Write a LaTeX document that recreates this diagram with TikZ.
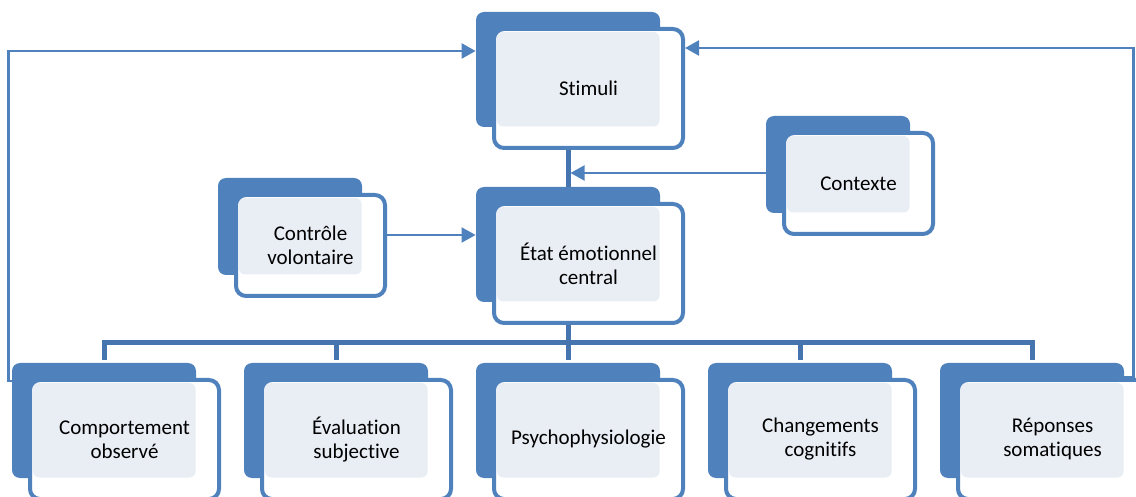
\documentclass[tikz,border=0pt]{standalone}
\usepackage{fontspec}
\setmainfont{Carlito}[RawFeature={-liga}]
\usepackage{tikz}
\usetikzlibrary{positioning, calc, arrows.meta, backgrounds}
\definecolor{boxblue}{RGB}{79,129,189}
\definecolor{linkblue}{RGB}{70,116,174}
\definecolor{paneblue}{RGB}{233,237,244}

\begin{document}
\begin{tikzpicture}[x=0.5pt, y=-0.5pt, font=\fontsize{10.5}{12}\selectfont, >={Triangle[length=7pt, width=7.5pt]},
  boxback/.style={fill=boxblue, rounded corners=4pt, inner sep=0pt, minimum width=92pt, minimum height=57.5pt},
  boxbacksmall/.style={boxback, minimum width=72pt, minimum height=48.5pt},
  boxfront/.style={draw=boxblue, line width=2pt, fill=white, rounded corners=5pt, inner sep=0pt, align=center,
    minimum width=94.5pt, minimum height=59.5pt,
    path picture={\fill[paneblue, rounded corners=3pt]
      ([shift={(1.5pt,-1.5pt)}]path picture bounding box.north west) rectangle
      ([shift={(-11.75pt,10.75pt)}]path picture bounding box.south east);}},
  boxfrontsmall/.style={boxfront, minimum width=74.5pt, minimum height=50.5pt},
  trunk/.style={linkblue, line width=2.5pt},
  link/.style={->, boxblue, line width=1pt},
  fbline/.style={->, boxblue, line width=1.2pt}]

% pixel grid of the reference: x 0..1136, y 0..497 downwards
\useasboundingbox (0,0) rectangle (1136,497);

%% ── top and middle boxes ─────────────────────────────────────────
\node[boxback] (stimB) at (568,69.5) {};
\node[boxfront] (stim) at ([shift={(10.25pt,-9.5pt)}]stimB.center) {Stimuli};

\node[boxback] (etatB) at (568,244.5) {};
\node[boxfront] (etat) at ([shift={(10.25pt,-9.5pt)}]etatB.center) {État émotionnel\\central};

\node[boxbacksmall] (ctrlB) at (290,226.5) {};
\node[boxfrontsmall] (ctrl) at ([shift={(10.25pt,-9.5pt)}]ctrlB.center) {Contrôle\\volontaire};

\node[boxbacksmall] (ctxtB) at (838,164.5) {};
\node[boxfrontsmall] (ctxt) at ([shift={(10.25pt,-9.5pt)}]ctxtB.center) {Contexte};

%% ── bottom row ───────────────────────────────────────────────────
\node[boxback] (compB) at (104,420.5) {};
\node[boxfront] (comp) at ([shift={(10.25pt,-9.5pt)}]compB.center) {Comportement\\observé};

\node[boxback] (evalB) at (336,420.5) {};
\node[boxfront] (eval) at ([shift={(10.25pt,-9.5pt)}]evalB.center) {Évaluation\\subjective};

\node[boxback] (psyB) at (568,420.5) {};
\node[boxfront] (psy) at ([shift={(10.25pt,-9.5pt)}]psyB.center) {Psychophysiologie};

\node[boxback] (cogB) at (800,420.5) {};
\node[boxfront] (cog) at ([shift={(10.25pt,-9.5pt)}]cogB.center) {Changements\\cognitifs};

\node[boxback] (repB) at (1032,420.5) {};
\node[boxfront] (rep) at ([shift={(10.25pt,-9.5pt)}]repB.center) {Réponses\\somatiques};

%% ── tree lines (behind the boxes) ────────────────────────────────
\begin{scope}[on background layer]
\draw[trunk] (stimB.south) -- (etatB.north);
\draw[trunk] (etatB.south) -- (etatB.south |- 0,343);
\draw[trunk] ([yshift=1.5pt]compB.north) -- (compB.north |- 0,343) -- (repB.north |- 0,343) -- ([yshift=1.5pt]repB.north);
\draw[trunk, shorten >=1.5pt] (evalB.north |- 0,343) -- (evalB.north);
\draw[trunk, shorten >=1.5pt] (psyB.north |- 0,343) -- (psyB.north);
\draw[trunk, shorten >=1.5pt] (cogB.north |- 0,343) -- (cogB.north);
\end{scope}

%% ── inputs ───────────────────────────────────────────────────────
\draw[link] (ctxtB.west |- 0,173) -- ([xshift=1.25pt]etatB.north |- 0,173);
\draw[link] (ctrl.east |- 0,235) -- (etatB.west |- 0,235);

%% ── feedback loops ───────────────────────────────────────────────
\draw[fbline] (compB.west |- 0,381) -- ++(-3,0) |- (stimB.west |- 0,51);
\draw[fbline] (repB.east |- 0,377) -- ++(9,0) |- (stim.east |- 0,48);

\end{tikzpicture}
\end{document}
